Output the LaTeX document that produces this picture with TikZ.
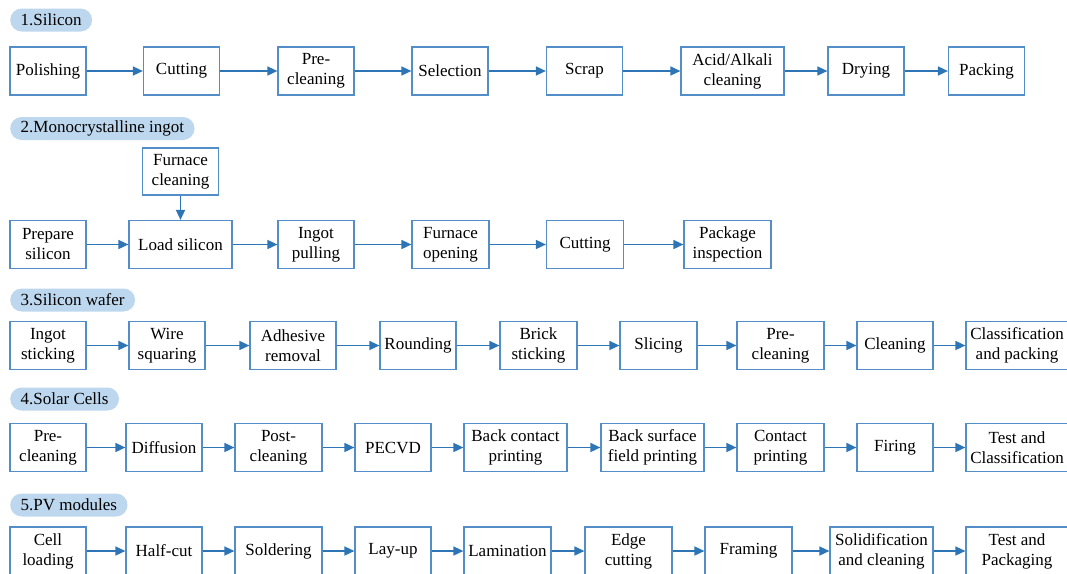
\documentclass[tikz,border=0pt]{standalone}
\usepackage{xcolor}
\usepackage{fontspec}
\setmainfont{Liberation Serif}
\usepackage{tikz}
\usetikzlibrary{shapes, arrows.meta, positioning}
\definecolor{lineblue}{RGB}{46,117,182}
\definecolor{boxblue}{RGB}{84,142,200}
\definecolor{tagblue}{RGB}{189,215,238}

\begin{document}
\begin{tikzpicture}
  [
    x=1pt, y=-1pt,
    Box/.style={rectangle, draw=boxblue, line width=1.2pt, fill=white, minimum width=76pt, minimum height=48pt, inner xsep=2pt, align=center, font=\fontsize{17}{20}\selectfont},
    Tag/.style={rectangle, rounded corners=11.5pt, fill=tagblue, minimum height=23pt, inner xsep=10.5pt, inner ysep=0pt, anchor=west, font=\fontsize{17}{20}\selectfont},
    Arrow/.style={-{Triangle[length=10pt, width=9pt]}, draw=lineblue, line width=1.6pt}
  ]
  \useasboundingbox (0, 0) rectangle (1067, 573);

  % Tags
  \node[Tag] (t1) at(10, 20) {1.Silicon};
  \node[Tag] (t2) at(10, 128.5) {2.Monocrystalline ingot};
  \node[Tag] (t3) at(10, 300) {3.Silicon wafer};
  \node[Tag] (t4) at(10, 399) {4.Solar Cells};
  \node[Tag] (t5) at(10, 505) {5.PV modules};

  % Nodes: silicon
  \node[Box] (s1) at(48, 71) {Polishing};
  \node[Box] (s2) at(181.5, 71) {Cutting};
  \node[Box] (s3) at(316, 71) {Pre-\\cleaning};
  \node[Box] (s4) at(450, 71) {Selection};
  \node[Box] (s5) at(584.5, 71) {Scrap};
  \node[Box, minimum width=103pt] (s6) at(732.5, 71) {Acid/Alkali\\cleaning};
  \node[Box] (s7) at(866, 71) {Drying};
  \node[Box] (s8) at(986.5, 71) {Packing};

  % Nodes: ingot
  \node[Box, minimum height=47pt] (m0) at(180.5, 171.5) {Furnace\\cleaning};
  \node[Box] (m1) at(48, 244.5) {Prepare\\silicon};
  \node[Box, minimum width=103pt] (m2) at(180.5, 244.5) {Load silicon};
  \node[Box] (m3) at(316, 244.5) {Ingot\\pulling};
  \node[Box, minimum width=77pt] (m4) at(450.5, 244.5) {Furnace\\opening};
  \node[Box, minimum width=77pt] (m5) at(585, 244.5) {Cutting};
  \node[Box, minimum width=87pt] (m6) at(727.5, 244.5) {Package\\inspection};

  % Nodes: wafer
  \node[Box] (w1) at(48, 345.5) {Ingot\\sticking};
  \node[Box] (w2) at(167, 345.5) {Wire\\squaring};
  \node[Box, minimum width=86pt] (w3) at(293, 345.5) {Adhesive\\removal};
  \node[Box] (w4) at(418, 345.5) {Rounding};
  \node[Box, minimum width=77pt] (w5) at(538.5, 345.5) {Brick\\sticking};
  \node[Box, minimum width=77pt] (w6) at(658.5, 345.5) {Slicing};
  \node[Box, minimum width=87pt] (w7) at(780.5, 345.5) {Pre-\\cleaning};
  \node[Box] (w8) at(895, 345.5) {Cleaning};
  \node[Box, minimum width=102pt] (w9) at(1017, 345.5) {Classification\\and packing};

  % Nodes: cells
  \node[Box] (c1) at(48, 447.5) {Pre-\\cleaning};
  \node[Box] (c2) at(164, 447.5) {Diffusion};
  \node[Box, minimum width=87pt] (c3) at(278.5, 447.5) {Post-\\cleaning};
  \node[Box] (c4) at(393, 447.5) {PECVD};
  \node[Box, minimum width=103pt] (c5) at(515.5, 447.5) {Back contact\\printing};
  \node[Box, minimum width=103pt] (c6) at(652.5, 447.5) {Back surface\\field printing};
  \node[Box, minimum width=87pt] (c7) at(780.5, 447.5) {Contact\\printing};
  \node[Box] (c8) at(895, 447.5) {Firing};
  \node[Box, minimum width=102pt] (c9) at(1017, 447.5) {Test and\\Classification};

  % Nodes: modules
  \node[Box] (p1) at(48, 551) {Cell\\loading};
  \node[Box] (p2) at(164, 551) {Half-cut};
  \node[Box, minimum width=87pt] (p3) at(278.5, 551) {Soldering};
  \node[Box] (p4) at(393, 551) {Lay-up};
  \node[Box, minimum width=87pt] (p5) at(507.5, 551) {Lamination};
  \node[Box, minimum width=87pt] (p6) at(628.5, 551) {Edge\\cutting};
  \node[Box, minimum width=87pt] (p7) at(748.5, 551) {Framing};
  \node[Box, minimum width=103pt] (p8) at(881.5, 551) {Solidification\\and cleaning};
  \node[Box, minimum width=102pt] (p9) at(1017, 551) {Test and\\Packaging};

  % Lines
  \path [Arrow] (s1) to (s2);
  \path [Arrow] (s2) to (s3);
  \path [Arrow] (s3) to (s4);
  \path [Arrow] (s4) to (s5);
  \path [Arrow] (s5) to (s6);
  \path [Arrow] (s6) to (s7);
  \path [Arrow] (s7) to (s8);

  \path [Arrow] (m0) to (m2);
  \path [Arrow] (m1) to (m2);
  \path [Arrow] (m2) to (m3);
  \path [Arrow] (m3) to (m4);
  \path [Arrow] (m4) to (m5);
  \path [Arrow] (m5) to (m6);

  \path [Arrow] (w1) to (w2);
  \path [Arrow] (w2) to (w3);
  \path [Arrow] (w3) to (w4);
  \path [Arrow] (w4) to (w5);
  \path [Arrow] (w5) to (w6);
  \path [Arrow] (w6) to (w7);
  \path [Arrow] (w7) to (w8);
  \path [Arrow] (w8) to (w9);

  \path [Arrow] (c1) to (c2);
  \path [Arrow] (c2) to (c3);
  \path [Arrow] (c3) to (c4);
  \path [Arrow] (c4) to (c5);
  \path [Arrow] (c5) to (c6);
  \path [Arrow] (c6) to (c7);
  \path [Arrow] (c7) to (c8);
  \path [Arrow] (c8) to (c9);

  \path [Arrow] (p1) to (p2);
  \path [Arrow] (p2) to (p3);
  \path [Arrow] (p3) to (p4);
  \path [Arrow] (p4) to (p5);
  \path [Arrow] (p5) to (p6);
  \path [Arrow] (p6) to (p7);
  \path [Arrow] (p7) to (p8);
  \path [Arrow] (p8) to (p9);

\end{tikzpicture}
\end{document}
